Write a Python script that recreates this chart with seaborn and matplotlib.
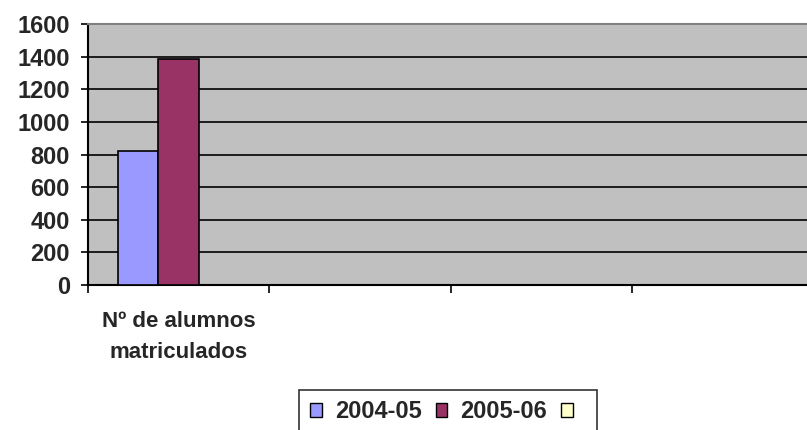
import pandas as pd
import numpy as np
import seaborn as sns
import matplotlib.pyplot as plt
from matplotlib.patches import Patch

# chart data
categories = ['Nº de alumnos\nmatriculados', ' ', '  ', '   ']
series = ['2004-05', '2005-06', ' ']
values_2004 = [823, np.nan, np.nan, np.nan]
values_2005 = [1385, np.nan, np.nan, np.nan]
values_empty = [np.nan, np.nan, np.nan, np.nan]
colors = ['#9999FF', '#993366', '#FFFFCC']

df = pd.DataFrame({
    'categoria': categories * 3,
    'serie': [series[0]] * 4 + [series[1]] * 4 + [series[2]] * 4,
    'valor': values_2004 + values_2005 + values_empty,
})

sns.set_style('white')
plt.rcParams['font.family'] = ['Liberation Sans', 'DejaVu Sans']
plt.rcParams['font.weight'] = 'bold'

fig = plt.figure(figsize=(8.07, 4.30), dpi=100)
ax = fig.add_axes([88 / 807, 1 - 285 / 430, 725 / 807, 261 / 430])
ax.set_facecolor('#C0C0C0')

sns.barplot(data=df, x='categoria', y='valor', hue='serie', hue_order=series,
            order=categories, palette=colors, saturation=1, width=0.67,
            edgecolor='black', linewidth=1.2, errorbar=None, legend=False,
            ax=ax, zorder=3)

# axes / grid
ax.set_ylim(0, 1600)
ax.set_xlim(-0.5, 3.5)
ax.set_yticks(range(0, 1601, 200))
ax.yaxis.grid(True, color='black', linewidth=1.2, zorder=1)
ax.set_axisbelow(True)
ax.set_xlabel('')
ax.set_ylabel('')
ax.tick_params(axis='y', labelsize=17, length=5, width=1.2, color='black', pad=8, left=True)
ax.set_xticks(range(4))
ax.set_xticklabels(categories, fontsize=16, linespacing=1.6)
ax.tick_params(axis='x', which='major', length=0, pad=19)
ax.set_xticks([-0.5, 0.5, 1.5, 2.5], minor=True)
ax.tick_params(axis='x', which='minor', length=6, width=1.2, color='black', bottom=True)
for lbl in ax.get_yticklabels() + ax.get_xticklabels():
    lbl.set_fontweight('bold')

for side in ['left', 'bottom']:
    ax.spines[side].set_color('black')
    ax.spines[side].set_linewidth(1.5)
ax.spines['top'].set_color('#808080')
ax.spines['top'].set_linewidth(1.5)
ax.spines['right'].set_visible(False)

handles = [Patch(facecolor=c, edgecolor='black', linewidth=1.0) for c in colors]
leg_labels = [series[0], series[1], '']
leg = fig.legend(handles, leg_labels, loc='center', bbox_to_anchor=(448 / 807, 1 - 412 / 430),
                 ncol=3, frameon=True, fancybox=False, edgecolor='black',
                 prop={'size': 17, 'weight': 'bold'}, handlelength=0.5,
                 handleheight=0.5, handletextpad=0.55, columnspacing=0.6,
                 borderpad=0.45, borderaxespad=0)
leg.get_frame().set_linewidth(1.2)

fig.savefig('out.png', dpi=100, facecolor='white')
